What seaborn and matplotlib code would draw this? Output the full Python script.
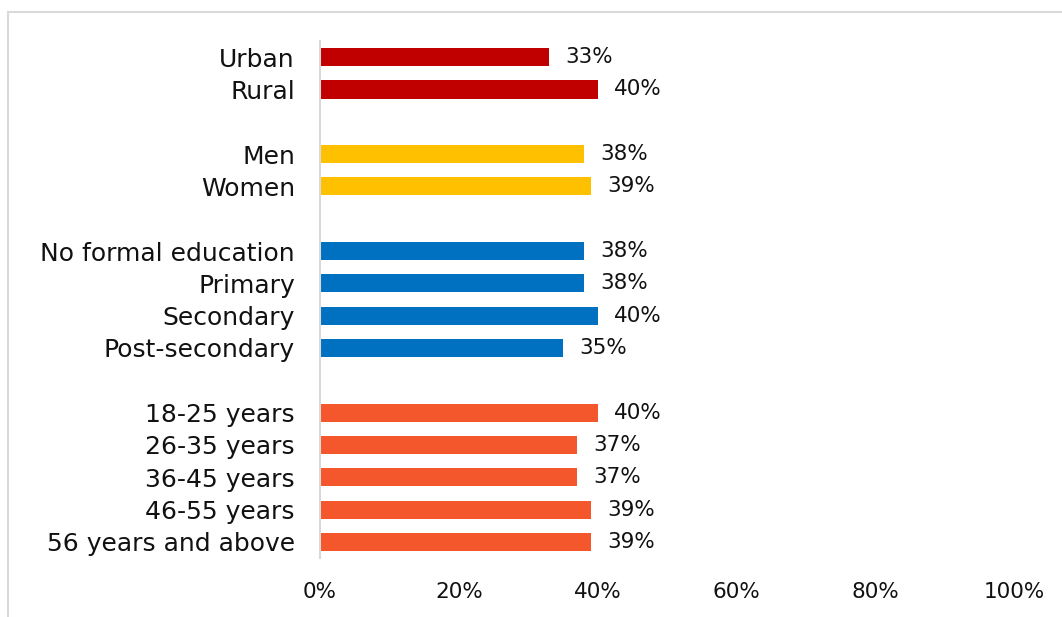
import matplotlib
matplotlib.use("Agg")
import matplotlib.pyplot as plt
from matplotlib.patches import Rectangle
import seaborn as sns
import pandas as pd

# Share of respondents, by group
area_labels = ["Urban", "Rural"]
area_values = [33, 40]
sex_labels = ["Men", "Women"]
sex_values = [38, 39]
edu_labels = ["No formal education", "Primary", "Secondary", "Post-secondary"]
edu_values = [38, 38, 40, 35]
age_labels = ["18-25 years", "26-35 years", "36-45 years", "46-55 years", "56 years and above"]
age_values = [40, 37, 37, 39, 39]

x_ticks = [0, 20, 40, 60, 80, 100]

groups = [
    ("Area", area_labels, area_values, "#C00000"),
    ("Sex", sex_labels, sex_values, "#FFC000"),
    ("Education", edu_labels, edu_values, "#0070C0"),
    ("Age", age_labels, age_values, "#F4572B"),
]

rows = []
order = []
palette = {}
for i, (name, labels, values, color) in enumerate(groups):
    if i > 0:
        order.append(" " * i)  # blank row between groups
    for lab, val in zip(labels, values):
        rows.append({"label": lab, "value": val, "group": name})
        order.append(lab)
    palette[name] = color
df = pd.DataFrame(rows)

sns.set_theme(style="white")
plt.rcParams["font.family"] = ["DejaVu Sans"]

fig = plt.figure(figsize=(10.62, 6.17), dpi=100)
ax = fig.add_axes([0.3013, 0.0956, 0.6535, 0.8379])

sns.barplot(data=df, y="label", x="value", hue="group", order=order,
            palette=palette, dodge=False, width=0.56, legend=False,
            saturation=1, linewidth=0, ax=ax, orient="h")

for cont in ax.containers:
    ax.bar_label(cont, labels=[f"{v:.0f}%" for v in cont.datavalues],
                 padding=12, fontsize=15.5, color="#111111")

ax.set_xlim(0, 100)
ax.set_ylim(len(order) - 0.5, -0.5)
ax.set_xticks(x_ticks)
ax.set_xticklabels([f"{t}%" for t in x_ticks])
ax.set_xlabel("")
ax.set_ylabel("")
ax.tick_params(axis="both", length=0, colors="#111111")
ax.tick_params(axis="y", pad=18, labelsize=18)
ax.tick_params(axis="x", pad=17.5, labelsize=15.5)
for side in ["top", "right", "bottom"]:
    ax.spines[side].set_visible(False)
ax.spines["left"].set_color("#D9D9D9")
ax.spines["left"].set_linewidth(1.5)
ax.grid(False)

# Outer chart frame
fig.patches.append(Rectangle((8 / 1062, -0.1), 1.2, 1 - 12 / 617 + 0.1,
                             transform=fig.transFigure, fill=False,
                             edgecolor="#D9D9D9", linewidth=1.5))

fig.savefig("out.png", dpi=100)
